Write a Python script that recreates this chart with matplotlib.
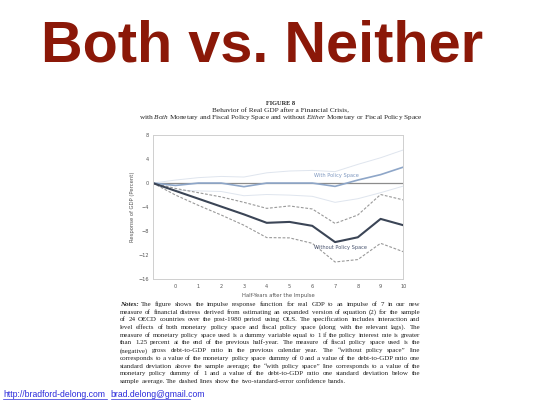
import numpy as np
import matplotlib
matplotlib.use("Agg")
import matplotlib.pyplot as plt

plt.rcParams["mathtext.fontset"] = "custom"
plt.rcParams["mathtext.rm"] = "Liberation Serif"
plt.rcParams["mathtext.it"] = "Liberation Serif:italic"
plt.rcParams["mathtext.bf"] = "Liberation Serif:bold"

# half-years after the impulse (-1 is the starting point)
half_years = [-1, 0, 1, 2, 3, 4, 5, 6, 7, 8, 9, 10]

# without policy space: point estimate and 2-s.e. bands
without_mid = [0, -1.3, -2.6, -3.9, -5.2, -6.6, -6.45, -7.1, -9.8, -9.0, -5.95, -7.0]
without_hi = [0, -0.9, -1.6, -2.3, -3.2, -4.2, -3.8, -4.3, -6.7, -5.3, -1.9, -2.8]
without_lo = [0, -2.0, -3.7, -5.3, -7.0, -9.05, -9.1, -10.0, -13.1, -12.7, -10.0, -11.4]

# with policy space: point estimate and bands
with_mid = [0, -0.4, 0.0, 0.0, -0.6, 0.0, 0.0, 0.0, -0.55, 0.5, 1.4, 2.65]
with_hi = [0, 0.5, 0.9, 1.1, 1.0, 1.7, 2.0, 2.1, 1.9, 3.1, 4.2, 5.5]
with_lo = [0, -1.2, -1.3, -1.4, -2.1, -1.9, -2.0, -2.2, -3.2, -2.6, -1.6, -0.5]

yticks = [8, 4, 0, -4, -8, -12, -16]
xticks = [0, 1, 2, 3, 4, 5, 6, 7, 8, 9, 10]

notes = [
    "The figure shows the impulse response function for real GDP to an impulse of 7 in our new",
    "measure of financial distress derived from estimating an expanded version of equation (2) for the sample",
    "of 24 OECD countries over the post-1980 period using OLS. The specification includes interaction and",
    "level effects of both monetary policy space and fiscal policy space (along with the relevant lags). The",
    "measure of monetary policy space used is a dummy variable equal to 1 if the policy interest rate is greater",
    "than 1.25 percent at the end of the previous half-year. The measure of fiscal policy space used is the",
    "(negative) gross debt-to-GDP ratio in the previous calendar year. The \u201cwithout policy space\u201d line",
    "corresponds to a value of the monetary policy space dummy of 0 and a value of the debt-to-GDP ratio one",
    "standard deviation above the sample average; the \u201cwith policy space\u201d line corresponds to a value of the",
    "monetary policy dummy of 1 and a value of the debt-to-GDP ratio one standard deviation below the",
    "sample average. The dashed lines show the two-standard-error confidence bands.",
]

fig = plt.figure(figsize=(5.4, 4.05), dpi=100)
fig.patch.set_facecolor("white")
ink = "#222222"

# slide title
fig.text(0.485, 0.885, "Both vs. Neither", ha="center", va="center",
         fontsize=41.5, fontweight="bold", color="#8b1808", family="Liberation Sans")

# figure caption
fig.text(0.52, 0.745, "F\u0049GURE 8", ha="center", va="center", fontsize=4.6,
         fontweight="bold", family="Liberation Serif", color=ink)
fig.text(0.52, 0.727, "Behavior of Real GDP after a Financial Crisis,", ha="center",
         va="center", fontsize=5.2, family="Liberation Serif", color=ink)
fig.text(0.52, 0.709, "with $\\it{Both}$ Monetary and Fiscal Policy Space and without $\\it{Either}$ Monetary or Fiscal Policy Space",
         ha="center", va="center", fontsize=5.2, family="Liberation Serif", color=ink)

ax = fig.add_axes([0.283, 0.310, 0.464, 0.357])
gray = "#999999"

ax.axhline(0, color="#8c8c8c", lw=0.9)
ax.plot(half_years, with_hi, color="#dfe5ee", lw=0.7)
ax.plot(half_years, with_lo, color="#dfe5ee", lw=0.7)
ax.plot(half_years, without_hi, color=gray, lw=0.8, ls=(0, (2.5, 1.5)))
ax.plot(half_years, without_lo, color=gray, lw=0.8, ls=(0, (2.5, 1.5)))
ax.plot(half_years, with_mid, color="#8ea6c8", lw=1.2)
ax.plot(half_years, without_mid, color="#3b4556", lw=1.5)

ax.text(7.05, 1.3, "With Policy Space", fontsize=3.6, color="#7f98c0", ha="center", va="center")
ax.text(7.25, -10.7, "Without Policy Space", fontsize=3.6, color="#4a5570", ha="center", va="center")

ax.set_xlim(-1, 10)
ax.set_ylim(-16, 8)
ax.set_xticks(xticks)
ax.set_yticks(yticks)
ax.tick_params(length=0, labelsize=3.6, labelcolor="#555555", pad=3)
for s in ax.spines.values():
    s.set_color("#cfcfcf")
    s.set_linewidth(0.7)
ax.set_xlabel("Half-Years after the Impulse", fontsize=3.8, color="#555555", labelpad=3)
ax.set_ylabel("Response of GDP (Percent)", fontsize=3.8, color="#555555", labelpad=2)

# notes paragraph, justified word by word
renderer = fig.canvas.get_renderer()
left, right = 0.222, 0.778
y0 = 0.245
dy = 0.0191
fs = 5.05
figw = fig.bbox.width

def word_width(t):
    w = t.get_window_extent(renderer=renderer).width
    return w / figw

space = fig.text(0, 0, "a a", fontsize=fs, family="Liberation Serif")
space_w = word_width(space)
space.set_text("aa")
space_w -= word_width(space)
space.remove()

for i, line in enumerate(notes):
    y = y0 - i * dy
    words = line.split()
    start = left
    if i == 0:
        lab = fig.text(left, y, "Notes:", fontsize=fs, family="Liberation Serif",
                       style="italic", fontweight="bold", color=ink, va="baseline")
        start = left + word_width(lab) + 1.5 * space_w
    arts = [fig.text(0, y, w, fontsize=fs, family="Liberation Serif", color=ink, va="baseline")
            for w in words]
    widths = [word_width(a) for a in arts]
    if i == len(notes) - 1:
        gap = space_w
    else:
        gap = (right - start - sum(widths)) / (len(words) - 1)
    x = start
    for a, w in zip(arts, widths):
        a.set_x(x)
        x += w + gap

# footer links
fig.text(0.006, 0.025, "http://bradford-delong.com", fontsize=6.2, color="#2a2adb",
         va="center", family="Liberation Sans")
fig.text(0.205, 0.025, "brad.delong@gmail.com", fontsize=6.2, color="#2a2adb",
         va="center", family="Liberation Sans")
fig.add_artist(plt.Line2D([0.006, 0.198], [0.014, 0.014], color="#2a2adb", lw=0.5))
fig.add_artist(plt.Line2D([0.205, 0.352], [0.014, 0.014], color="#2a2adb", lw=0.5))

fig.savefig("out.png", dpi=100)
